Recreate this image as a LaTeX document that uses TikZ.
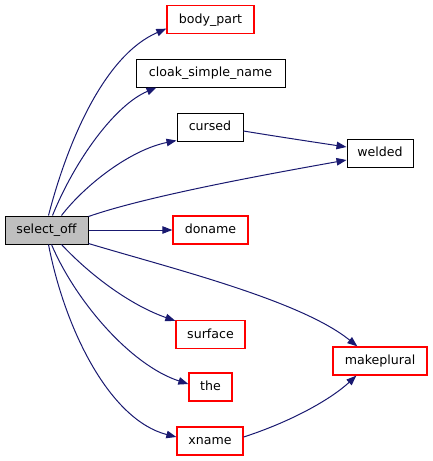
\documentclass[tikz,border=0pt]{standalone}
\usepackage{fontspec}
\setmainfont{DejaVu Sans}
\usetikzlibrary{arrows.meta}
\definecolor{edgecol}{RGB}{25,25,112}
\definecolor{grayf}{RGB}{191,191,191}
\tikzset{
  basebox/.style={line width=1pt, inner sep=0pt, minimum height=28pt,
    font=\fontsize{12.6}{15}\selectfont, text height=9.5pt, text depth=2.5pt},
  box/.style={basebox, draw=black},
  rbox/.style={basebox, draw=red, line width=1.3pt},
  gbox/.style={basebox, draw=black, fill=grayf},
  e/.style={draw=edgecol, line width=1pt, -{Triangle[length=10pt,width=7.5pt]}}
}
\begin{document}
\begin{tikzpicture}[x=1pt,y=-1pt]
\useasboundingbox (0,0) rectangle (432,461);
\node[gbox, minimum width=83pt] (sel) at (46.5,230) {select\_off};
\node[rbox, minimum width=87pt] (body) at (210.5,19.5) {body\_part};
\node[box, minimum width=149pt] (cloak) at (210.5,73) {cloak\_simple\_name};
\node[box, minimum width=66pt] (cursed) at (210,127) {cursed};
\node[box, minimum width=66pt] (welded) at (380,153) {welded};
\node[rbox, minimum width=75pt] (doname) at (210.5,230) {doname};
\node[rbox, minimum width=69pt] (surface) at (210.5,334.5) {surface};
\node[rbox, minimum width=43pt] (the) at (210.5,387) {the};
\node[rbox, minimum width=66pt] (xname) at (210,441) {xname};
\node[rbox, minimum width=94pt] (plural) at (380,361) {makeplural};

\draw[e] ([xshift=44pt]sel.north west) .. controls (68,140) and (105,55) .. ([yshift=5.5pt]body.south west);
\draw[e] ([xshift=48pt]sel.north west) .. controls (75,160) and (115,105) .. ([xshift=21pt]cloak.south west);
\draw[e] ([xshift=57pt]sel.north west) .. controls (85,185) and (130,150) .. ([yshift=1pt]cursed.south west);
\draw[e] ([yshift=-1pt]sel.north east) .. controls (150,195) and (280,172) .. ([yshift=-7pt]welded.west);
\draw[e] ([yshift=-4pt]cursed.east) .. controls (280,137) and (320,143) .. ([yshift=6pt]welded.west);
\draw[e] (sel.east) -- (doname.west);
\draw[e] ([yshift=1pt]sel.south east) .. controls (170,268) and (300,300) .. ([xshift=25pt]plural.north west);
\draw[e] ([xshift=57pt]sel.south west) .. controls (90,275) and (130,305) .. ([yshift=-1pt]surface.north west);
\draw[e] ([xshift=47pt]sel.south west) .. controls (75,300) and (130,365) .. ([yshift=3pt]the.west);
\draw[e] ([xshift=44pt]sel.south west) .. controls (65,330) and (110,420) .. ([yshift=4pt]xname.west);
\draw[e] ([yshift=4pt]xname.east) .. controls (290,422) and (330,400) .. ([xshift=24pt]plural.south west);
\end{tikzpicture}
\end{document}
